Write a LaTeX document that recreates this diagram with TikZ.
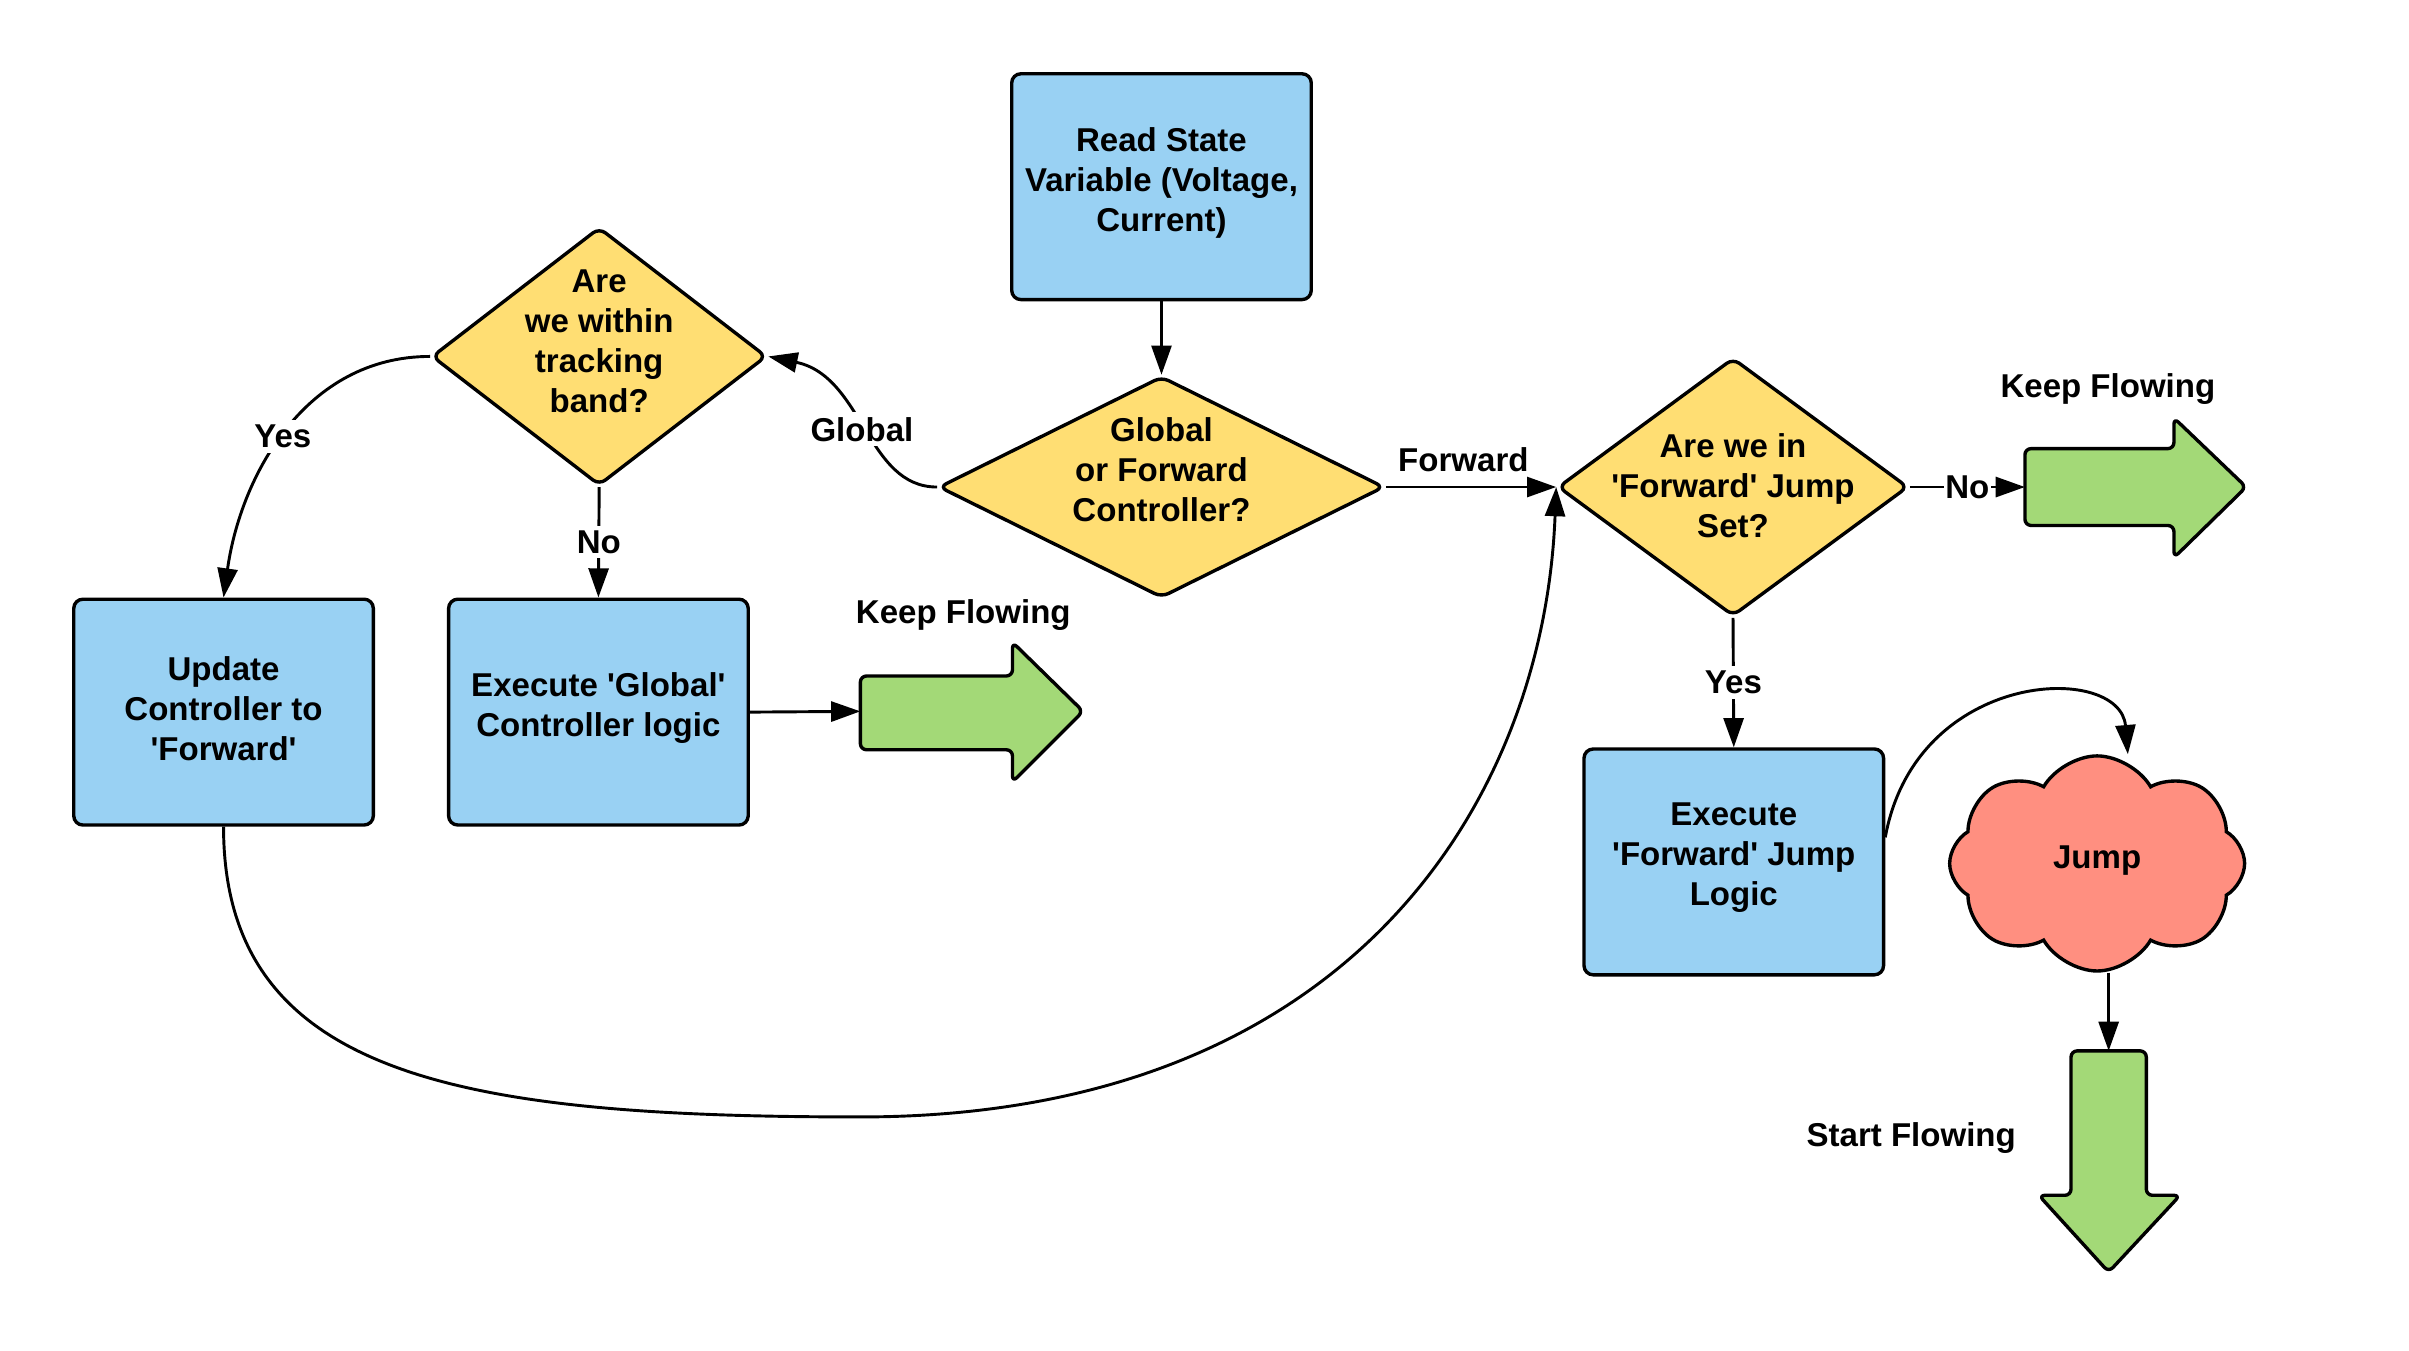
\documentclass[tikz,border=0pt]{standalone}
\usepackage{fontspec}
\setmainfont{Liberation Sans}
\usetikzlibrary{arrows.meta,shapes.geometric,shapes.symbols,calc}
\definecolor{boxblue}{RGB}{153,209,243}
\definecolor{diayel}{RGB}{255,222,115}
\definecolor{flowgreen}{RGB}{163,217,119}
\definecolor{cloudred}{RGB}{255,143,128}
\newcommand{\sq}{\textquotesingle}
\begin{document}
\begin{tikzpicture}[x=1pt,y=-1pt,
  every node/.style={font=\fontsize{21.5}{26}\selectfont\bfseries},
  proc/.style={draw, line width=2.2pt, fill=boxblue, rounded corners=6pt,
    minimum width=195pt, minimum height=147pt},
  dia/.style={draw, diamond, line width=2.2pt, fill=diayel, rounded corners=5pt, inner sep=0pt},
  txt/.style={align=center, inner sep=0pt},
  conn/.style={line width=1.9pt, -{Triangle[length=19pt,width=13pt]}},
  lbl/.style={fill=white, inner sep=3pt},
  bigarrow/.style={draw, line width=2.2pt, fill=flowgreen, rounded corners=4pt, line join=round},
]
\useasboundingbox (0,0) rectangle (1568,879);

% process boxes
\node[proc] (rs) at (756,121.5) {};
\node[txt] (rst) at (756,119) {Read State\\Variable (Voltage,\\Current)};
\node[proc] (up) at (145.5,463.5) {};
\node[txt] (upt) at (145.5,461) {Update\\Controller to\\\sq Forward\sq};
\node[proc] (eg) at (389.5,463.5) {};
\node[txt] (egt) at (389.5,461) {Execute \sq Global\sq\\Controller logic};
\node[proc] (ef) at (1128.5,561) {};
\node[txt] (eft) at (1128.5,558) {Execute\\\sq Forward\sq\ Jump\\Logic};

% decisions
\node[dia, minimum width=290pt, minimum height=144pt] (gs) at (756,317) {};
\node[txt] (gst) at (756,306) {Global\\or Forward\\Controller?};
\node[dia, minimum width=218pt, minimum height=168pt] (tb) at (390,232) {};
\node[txt] (tbt) at (390,222) {Are\\we within\\tracking\\band?};
\node[dia, minimum width=228pt, minimum height=168pt] (fd) at (1128,317) {};
\node[txt] (fdt) at (1128,316) {Are we in\\\sq Forward\sq\ Jump\\Set?};

% cloud
\node[draw, cloud, cloud puffs=8, cloud puff arc=120, cloud ignores aspect,
  line width=2.2pt, fill=cloudred, minimum width=192pt, minimum height=140pt,
  inner sep=0pt] (jump) at (1365,562) {};
\node[txt] (jumpt) at (1365,560) {Jump};

% big flow arrows
\draw[bigarrow] (560,440) -- (659,440) -- (659,418) -- (705,463) -- (659,509)
  -- (659,488) -- (560,488) -- cycle;
\coordinate (kf1) at (560,463);
\node (kf1t) at (627,400) {Keep Flowing};

\draw[bigarrow] (1318,292) -- (1415,292) -- (1415,272) -- (1462,317) -- (1415,363)
  -- (1415,342) -- (1318,342) -- cycle;
\coordinate (kf2) at (1318,317);
\node (kf2t) at (1372,253) {Keep Flowing};

\draw[bigarrow] (1348,684) -- (1397,684) -- (1397,778) -- (1419,778) -- (1372.5,828)
  -- (1327,778) -- (1348,778) -- cycle;
\coordinate (sf) at (1372.5,684);
\node (sft) at (1244,741) {Start Flowing};

% connectors
\draw[conn] (rs.south) -- (gs.north);
\draw[conn] (gs.west) .. controls +(-46,0) and +(62,13) .. node[lbl,pos=0.5]{Global} (tb.east);
\draw[conn] (gs.east) -- node[above=9pt, inner sep=0pt, xshift=-5pt]{Forward} (fd.west);
\draw[conn] (tb.west) to[out=180,in=82] node[lbl,pos=0.52]{Yes} (up.north);
\draw[conn] (tb.south) -- node[lbl]{No} (eg.north);
\draw[conn] (eg.east) -- (kf1);
\draw[conn] (up.south) .. controls +(0,163) and (300,727) .. (560,727)
  .. controls (880,727) and (1005,520) .. (fd.west);
\draw[conn] (fd.east) -- node[lbl, inner sep=1pt]{No} (kf2);
\draw[conn] (fd.south) -- node[lbl]{Yes} (ef.north);
\coordinate (jtop) at ([xshift=20pt]jump.north);
\draw[conn] ([yshift=16pt]ef.east) .. controls +(20,-110) and +(-5,-60) .. (jtop);
\draw[conn] (jump.south -| sf) -- (sf);
\end{tikzpicture}
\end{document}
